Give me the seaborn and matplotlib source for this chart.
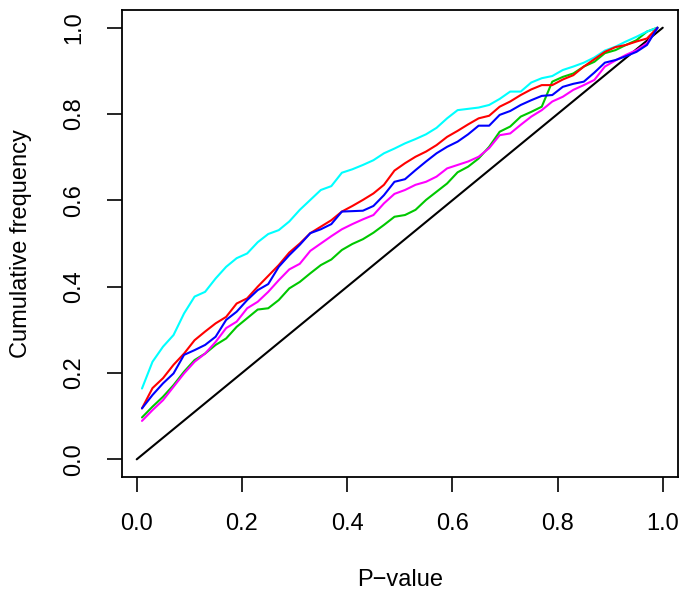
import pandas as pd
import matplotlib
matplotlib.use("Agg")
import matplotlib.pyplot as plt
import seaborn as sns

sns.set_style("ticks")
plt.rcParams['font.family'] = ['Liberation Sans', 'DejaVu Sans']
plt.rcParams['text.color'] = 'black'
plt.rcParams['axes.labelcolor'] = 'black'

# P-value bin midpoints
p_values = [0.01, 0.03, 0.05, 0.07, 0.09, 0.11, 0.13, 0.15, 0.17, 0.19,
            0.21, 0.23, 0.25, 0.27, 0.29, 0.31, 0.33, 0.35, 0.37, 0.39,
            0.41, 0.43, 0.45, 0.47, 0.49, 0.51, 0.53, 0.55, 0.57, 0.59,
            0.61, 0.63, 0.65, 0.67, 0.69, 0.71, 0.73, 0.75, 0.77, 0.79,
            0.81, 0.83, 0.85, 0.87, 0.89, 0.91, 0.93, 0.95, 0.97, 0.99]

# cumulative frequencies, one list per curve
freq_green = [0.097, 0.122, 0.145, 0.172, 0.203, 0.230, 0.245, 0.265, 0.280, 0.307,
              0.327, 0.347, 0.350, 0.369, 0.396, 0.411, 0.431, 0.450, 0.463, 0.485,
              0.499, 0.510, 0.525, 0.543, 0.562, 0.566, 0.578, 0.601, 0.620, 0.639,
              0.665, 0.678, 0.697, 0.724, 0.759, 0.771, 0.794, 0.805, 0.817, 0.875,
              0.886, 0.894, 0.910, 0.921, 0.941, 0.948, 0.960, 0.971, 0.991, 1.0]
freq_magenta = [0.089, 0.114, 0.137, 0.168, 0.199, 0.226, 0.245, 0.272, 0.304, 0.319,
                0.350, 0.365, 0.388, 0.415, 0.440, 0.453, 0.483, 0.500, 0.517, 0.533,
                0.545, 0.556, 0.566, 0.593, 0.615, 0.624, 0.636, 0.643, 0.655, 0.674,
                0.682, 0.690, 0.701, 0.721, 0.751, 0.755, 0.775, 0.794, 0.809, 0.829,
                0.840, 0.856, 0.867, 0.879, 0.910, 0.924, 0.937, 0.948, 0.964, 1.0]
freq_cyan = [0.164, 0.226, 0.261, 0.288, 0.338, 0.377, 0.388, 0.419, 0.446, 0.466,
             0.477, 0.503, 0.522, 0.531, 0.551, 0.578, 0.601, 0.624, 0.633, 0.664,
             0.672, 0.682, 0.693, 0.709, 0.720, 0.732, 0.742, 0.753, 0.768, 0.790,
             0.809, 0.812, 0.815, 0.821, 0.835, 0.852, 0.852, 0.873, 0.883, 0.888,
             0.902, 0.910, 0.919, 0.931, 0.947, 0.956, 0.968, 0.979, 0.991, 1.0]
freq_red = [0.118, 0.165, 0.188, 0.219, 0.245, 0.276, 0.296, 0.315, 0.330, 0.361,
            0.373, 0.400, 0.425, 0.450, 0.479, 0.500, 0.524, 0.539, 0.554, 0.574,
            0.587, 0.601, 0.616, 0.636, 0.669, 0.686, 0.701, 0.713, 0.728, 0.747,
            0.761, 0.776, 0.790, 0.796, 0.817, 0.829, 0.844, 0.857, 0.867, 0.867,
            0.880, 0.890, 0.910, 0.927, 0.944, 0.955, 0.960, 0.968, 0.975, 1.0]
freq_blue = [0.118, 0.149, 0.176, 0.199, 0.242, 0.253, 0.265, 0.284, 0.323, 0.342,
             0.369, 0.392, 0.406, 0.446, 0.473, 0.497, 0.524, 0.533, 0.545, 0.574,
             0.575, 0.576, 0.587, 0.612, 0.643, 0.649, 0.670, 0.690, 0.709, 0.724,
             0.736, 0.753, 0.773, 0.773, 0.798, 0.807, 0.821, 0.832, 0.842, 0.844,
             0.863, 0.870, 0.875, 0.896, 0.919, 0.925, 0.934, 0.944, 0.960, 1.0]

diag_x = [0.0, 1.0]
diag_y = [0.0, 1.0]

tick_values = [0.0, 0.2, 0.4, 0.6, 0.8, 1.0]
tick_labels = ["0.0", "0.2", "0.4", "0.6", "0.8", "1.0"]

series = {
    'green': freq_green,
    'magenta': freq_magenta,
    'cyan': freq_cyan,
    'red': freq_red,
    'blue': freq_blue,
}
colors = {'green': '#00C800', 'magenta': '#FF00FF', 'cyan': '#00FFFF',
          'red': '#FF0000', 'blue': '#0000FF'}

long_df = pd.concat(
    [pd.DataFrame({'p': p_values, 'freq': vals, 'group': name})
     for name, vals in series.items()],
    ignore_index=True,
)

fig = plt.figure(figsize=(6.85, 6.1), dpi=100)
ax = fig.add_axes([0.1777, 0.2180, 0.8117, 0.7656])

sns.lineplot(x=diag_x, y=diag_y, color='black', linewidth=1.5, ax=ax)
sns.lineplot(data=long_df, x='p', y='freq', hue='group', palette=colors,
             hue_order=list(series.keys()), linewidth=1.5, legend=False,
             estimator=None, sort=False, ax=ax)

ax.set_xlim(-0.0285, 1.0285)
ax.set_ylim(-0.041, 1.041)
ax.set_xticks(tick_values)
ax.set_xticklabels(tick_labels)
ax.set_yticks(tick_values)
ax.set_yticklabels(tick_labels, rotation=90, va='center')

for side in ['top', 'right', 'bottom', 'left']:
    ax.spines[side].set_visible(True)
    ax.spines[side].set_color('black')
    ax.spines[side].set_linewidth(1.3)

ax.tick_params(axis='both', direction='out', length=11, width=1.2,
               colors='black', labelcolor='black', labelsize=17)
ax.tick_params(axis='x', pad=15)
ax.tick_params(axis='y', pad=15)

ax.set_xlabel('P\u2212value', fontsize=17, va='center', color='black')
ax.set_ylabel('Cumulative frequency', fontsize=17, va='center', ha='center',
              color='black')
ax.xaxis.set_label_coords(0.5, -0.2206)
ax.yaxis.set_label_coords(-0.181, 0.5)

fig.savefig('out.png', dpi=100)
